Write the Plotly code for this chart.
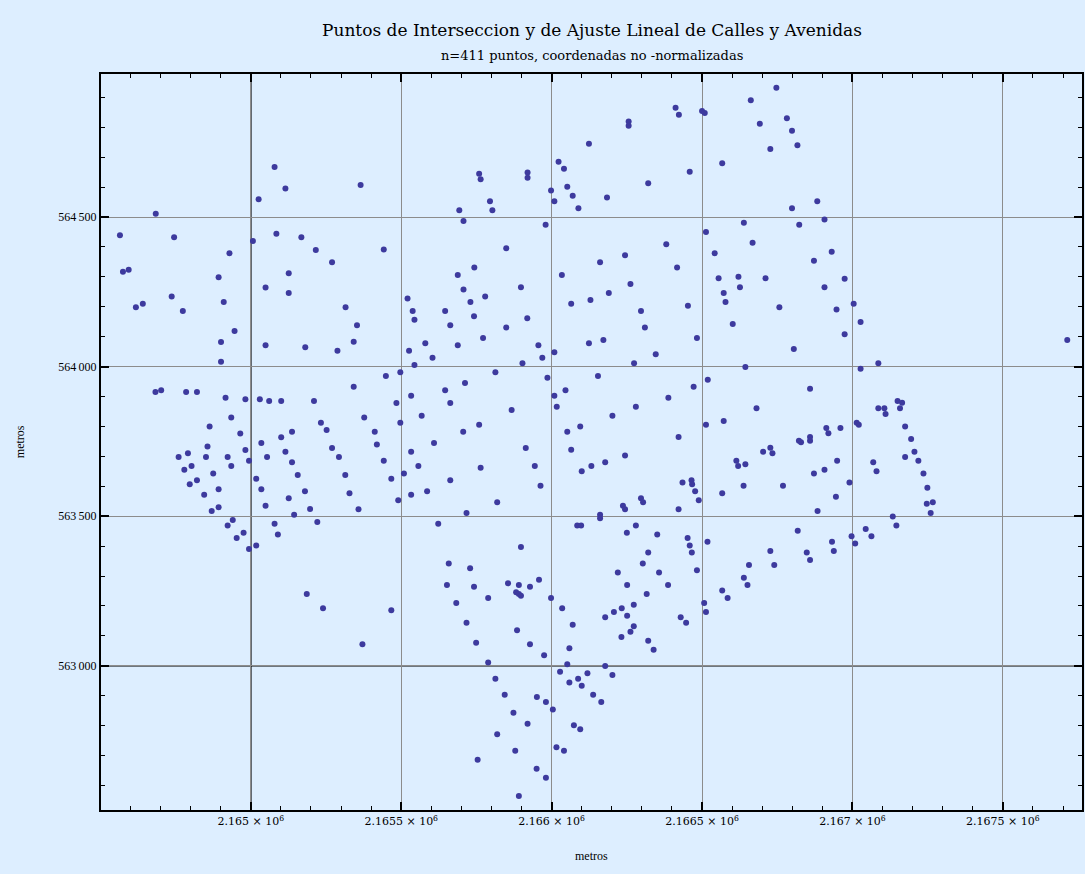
import plotly.graph_objects as go

# ---- data (metres) ----
x_a = [2165079,2165115,2165026,2164684,2164565,2164745,2165007,2165085,2165168,2165216,2164929,2165270,2164575,2164594,2165126,2164893,2165049,2165126,2164737,2164910,2164641,2164618,2164774,2165315]
y_a = [564667,564595,564559,564511,564439,564432,564420,564444,564432,564390,564379,564349,564317,564324,564312,564299,564264,564246,564234,564216,564210,564198,564186,564198]

x_b = [2164946,2164901,2165049,2165181,2165288,2164901,2164683,2164702,2164785,2164821,2164916,2164982,2165030,2165061,2165101,2165210,2164935,2164863,2165233,2165252,2164965,2165137,2165101,2165035,2164856,2164982,2165270,2165115,2164760,2164791,2164851,2164923,2165054,2165293,2164994,2165137,2164935,2164803,2164779,2164875,2165156,2165314,2165018,2164821,2164797,2164893,2165035,2165180,2164845,2165126,2165328,2165049,2164870,2164893,2165197,2165144,2164940,2164923,2165079,2165221,2164976,2165090,2164953,2165018,2164994,2165186,2165240]
y_b = [564119,564082,564071,564065,564053,564016,563915,563921,563915,563915,563896,563891,563891,563885,563885,563885,563830,563800,563812,563788,563776,563782,563764,563745,563733,563721,563728,563715,563698,563710,563698,563698,563698,563698,563685,563680,563668,563668,563655,563643,563638,563638,563625,563620,563607,563590,563590,563583,563572,563560,563577,563535,563517,563530,563524,563505,563487,563469,563475,563481,563445,563439,563427,563402,563390,563240,563192]

x_c = [2165365,2166124,2166023,2166041,2165759,2165764,2165920,2165920,2165998,2166052,2166070,2165795,2166009,2165693,2165803,2166089,2165707,2165980,2165849,2165442,2165743,2165688,2166034,2165898,2165707,2165521,2165779,2165730,2166065,2166129,2165538,2165646,2165742,2165544,2165919]
y_c = [564607,564745,564685,564661,564645,564626,564649,564631,564589,564601,564571,564553,564553,564523,564523,564529,564487,564474,564396,564391,564331,564306,564306,564265,564258,564228,564234,564216,564210,564223,564186,564186,564168,564157,564162]

x_d = [2165353,2165663,2165849,2165342,2165580,2165688,2165772,2165956,2166124,2165526,2165604,2165969,2166009,2165544,2165903,2165449,2165497,2165813,2165986,2165342,2165712,2165646,2165533,2166046,2165484,2165663,2166009,2166017,2165867,2165377,2165568,2165497,2165759,2166095,2165412,2165706,2166052,2165419,2165609,2165914,2166065,2165533,2165442,2165557,2165764,2165944,2166132,2166100,2165509,2165467,2165663,2165963,2165533,2165586,2165490,2165819,2165358,2165717,2165623,2166085,2166098,2165898,2165658,2165729]
y_d = [564138,564138,564131,564083,564078,564071,564096,564071,564078,564053,564030,564030,564048,564005,564011,563969,563981,563981,563963,563933,563945,563921,563903,563921,563878,563878,563903,563866,563855,563830,563836,563812,563806,563800,563782,563782,563782,563740,563745,563728,563722,563715,563685,563668,563662,563668,563668,563650,563643,563625,563620,563602,563572,563583,563553,563547,563523,563511,563475,563469,563469,563397,563342,563326]

x_e = [2165652,2165742,2165855,2165891,2165928,2165958,2165882,2165891,2165898,2165789,2165998,2165683,2165467,2166035,2165717,2165885,2166070,2165371,2165749,2165928,2166059,2165975,2165789,2166052,2166028,2166059,2166088,2166119,2166100,2166138,2165813,2165844,2165951,2165981,2166004,2165873,2165920,2166074,2166095,2165819,2166016,2166041,2165879,2165754,2165950,2165981,2165891]
y_e = [563270,563264,563276,563270,563264,563288,563246,563240,563234,563227,563227,563210,563186,563192,563144,563119,563137,563072,563077,563072,563059,563035,563011,563005,562980,562944,562957,562975,562933,562903,562957,562903,562896,562879,562854,562843,562806,562801,562788,562771,562728,562716,562716,562686,562656,562626,562565]

x_f = [2166747,2166662,2166412,2166423,2166500,2166509,2166692,2166782,2166256,2166256,2166799,2166817,2166727,2166567,2166459,2166321,2166184,2166883,2166799,2166907,2166639,2166823,2166513,2166381,2166668,2166244,2166542,2166931,2166161,2166417,2166872,2166555,2166621,2166711,2166262,2166626,2166907,2166190,2166572,2166578,2166453,2166757,2166947,2166297,2166602,2166974,2167004,2167027]
y_f = [564932,564890,564865,564842,564854,564848,564812,564830,564819,564805,564788,564740,564727,564680,564651,564613,564565,564553,564529,564492,564481,564474,564450,564409,564414,564372,564379,564384,564349,564331,564354,564295,564300,564295,564276,564265,564265,564246,564246,564216,564203,564198,564191,564186,564142,564294,564210,564149]

x_g = [2166310,2166172,2166483,2166346,2166274,2166805,2166644,2166154,2166519,2166472,2166859,2166388,2166280,2166202,2166681,2166572,2166513,2166422,2166913,2166920,2166960,2166822,2166829,2166859,2166859,2166727,2166703,2166734,2166244,2166178,2166614,2166620,2166644,2166949,2166907,2166872,2166435,2166465,2166467,2166638,2166769,2166477,2166567,2166945,2166297,2166304,2166489,2166237,2166244,2166422,2166884,2166161,2166161,2166280,2166250,2166351,2166818,2166452,2166459,2166466,2166518,2166932,2166727,2166848,2166938,2166859,2166321,2166303,2166656,2166740,2166483]
y_g = [564131,564089,564096,564041,564011,564059,563999,563969,563956,563933,563926,563896,563866,563836,563861,563818,563806,563765,563795,563777,563795,563752,563747,563765,563752,563729,563715,563710,563703,563680,563685,563668,563674,563685,563655,563643,563613,563620,563607,563602,563602,563583,563577,563565,563560,563547,563553,563535,563523,563523,563517,563505,563493,563469,563445,563439,563451,563427,563402,563379,563415,563415,563384,563379,563384,563354,563379,563342,563337,563337,563319]

x_h = [2166974,2167086,2167027,2167714,2167150,2167165,2167158,2167086,2167106,2167110,2167014,2167021,2167175,2167195,2167206,2167175,2167219,2167069,2167080,2167236,2166990,2167249,2167247,2167267,2167260,2167134,2167146,2167044,2167063,2166997,2167009]
y_h = [564108,564011,563993,564089,563885,563879,563861,563861,563861,563842,563812,563806,563800,563758,563715,563698,563685,563680,563650,563643,563613,563595,563542,563547,563511,563499,563469,563457,563433,563433,563409]

x_i = [2166220,2166357,2166251,2166387,2166316,2166273,2166233,2166207,2166251,2166178,2166273,2166262,2166232,2166321,2166339,2166429,2166447,2166507,2166513,2166567,2166585,2166639,2166651,2166178,2166202,2166165]
y_i = [563312,563312,563270,563270,563240,563204,563192,563180,563167,563162,563132,563114,563096,563084,563054,563162,563144,563210,563180,563252,563227,563294,563270,562999,562969,562879]

blocks = [(x_a, y_a), (x_b, y_b), (x_c, y_c), (x_d, y_d), (x_e, y_e),
          (x_f, y_f), (x_g, y_g), (x_h, y_h), (x_i, y_i)]
xs, ys = [], []
for k, (bx, by) in enumerate(blocks):
    if len(bx) != len(by):
        raise ValueError(f"block {k}: {len(bx)} vs {len(by)}")
    xs += bx
    ys += by

x_ticks = [2165000, 2165500, 2166000, 2166500, 2167000, 2167500]
x_tick_text = ["2.165 \u00d7 10<sup>6</sup>", "2.1655 \u00d7 10<sup>6</sup>", "2.166 \u00d7 10<sup>6</sup>",
               "2.1665 \u00d7 10<sup>6</sup>", "2.167 \u00d7 10<sup>6</sup>", "2.1675 \u00d7 10<sup>6</sup>"]
y_ticks = [563000, 563500, 564000, 564500]
y_tick_text = ["563\u2009000", "563\u2009500", "564\u2009000", "564\u2009500"]

BG = "#ddeeff"
FONT = "Liberation Serif, Times New Roman, DejaVu Serif, serif"
WIDE = "DejaVu Serif, Liberation Serif, serif"

fig = go.Figure()
fig.add_trace(go.Scatter(x=xs, y=ys, mode="markers",
                         marker=dict(size=6, color="#3d3a9e", line=dict(width=0)),
                         hoverinfo="x+y"))

axis_common = dict(showline=True, linewidth=2, linecolor="black", mirror="ticks",
                   ticks="inside", ticklen=8, tickwidth=1.5, tickcolor="black",
                   showgrid=True, gridcolor="#8c8c8c", gridwidth=1, zeroline=False)

fig.update_xaxes(range=[2164502, 2167763], tickmode="array", tickvals=x_ticks, ticktext=x_tick_text,
                 tickfont=dict(family=WIDE, size=11, color="black"),
                 minor=dict(tickmode="linear", tick0=2165000, dtick=100, ticks="inside",
                            ticklen=4, tickwidth=1, tickcolor="black", showgrid=False),
                 **axis_common)
fig.update_yaxes(range=[562518, 564978], tickmode="array", tickvals=y_ticks, ticktext=y_tick_text,
                 tickfont=dict(family=FONT, size=12, color="black"),
                 minor=dict(tickmode="linear", tick0=563000, dtick=100, ticks="inside",
                            ticklen=4, tickwidth=1, tickcolor="black", showgrid=False),
                 **axis_common)

fig.add_shape(type="line", xref="x", yref="paper", x0=2165000, x1=2165000, y0=0, y1=1,
              line=dict(color="black", width=1.5), layer="below")
fig.add_shape(type="line", xref="paper", yref="y", x0=0, x1=1, y0=563000, y1=563000,
              line=dict(color="black", width=1.5), layer="below")

fig.update_layout(
    width=1085, height=874,
    margin=dict(l=101, r=1, t=74, b=64),
    paper_bgcolor=BG, plot_bgcolor=BG,
    showlegend=False,
    font=dict(family=FONT, color="black"),
    annotations=[
        dict(text="Puntos de Interseccion y de Ajuste Lineal de Calles y Avenidas",
             xref="paper", yref="paper", x=0.5, y=1.0598, xanchor="center", yanchor="middle",
             showarrow=False, font=dict(family=WIDE, size=17, color="black")),
        dict(text="n=411 puntos, coordenadas no -normalizadas",
             xref="paper", yref="paper", x=0.5, y=1.0245, xanchor="center", yanchor="middle",
             showarrow=False, font=dict(family=WIDE, size=13, color="black")),
        dict(text="metros", xref="paper", yref="paper", x=0.5, y=-0.0625,
             xanchor="center", yanchor="middle", showarrow=False,
             font=dict(family=FONT, size=12, color="black")),
        dict(text="metros", xref="paper", yref="paper", x=-0.0824, y=0.5, textangle=-90,
             xanchor="center", yanchor="middle", showarrow=False,
             font=dict(family=FONT, size=12, color="black")),
    ],
)

fig.write_html("out.html")
